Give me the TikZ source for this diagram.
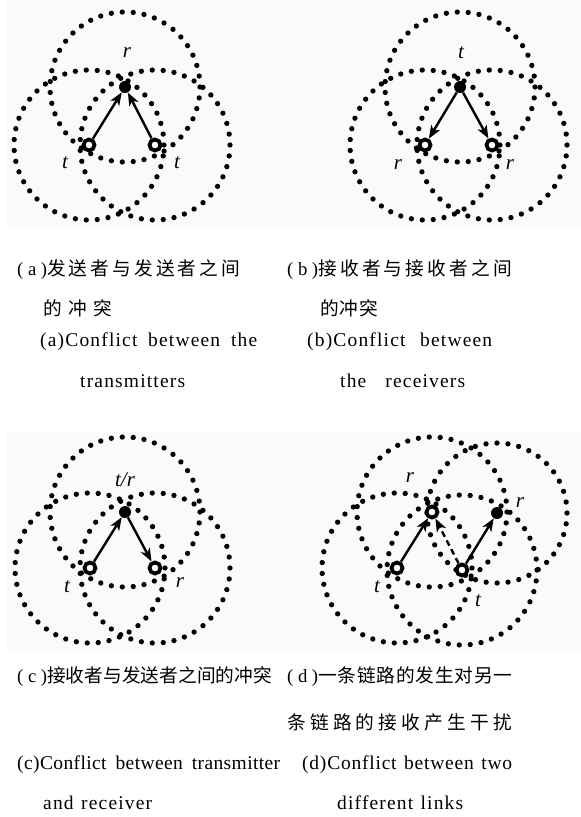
\documentclass[tikz,border=0pt]{standalone}
\usepackage{fontspec}
\setmainfont{Liberation Serif}
\newfontfamily\cjkfont{Noto Sans CJK SC}
\usetikzlibrary{arrows.meta,backgrounds}
\ExplSyntaxOn
\NewDocumentCommand\spreadto{mm}{\hbox to #1{\tl_map_inline:nn{#2}{##1\hfil}\unskip}}
\ExplSyntaxOff
\newcommand\zh[2]{{\cjkfont\spreadto{#1}{#2}}}
\newcommand\pl[2]{\hbox to #1{(\hfil #2\hfil)}}
\newcommand\enl[3][6]{\hbox to #2{\addfontfeature{LetterSpace=#1}#3}}
\tikzset{
  dotring/.style={line width=5.3pt, line cap=round, dash pattern=on 0pt off #1},
  opennd/.style={circle, draw, line width=3.8pt, fill=white, minimum size=11pt, inner sep=0pt},
  fillnd/.style={circle, fill=black, minimum size=12pt, inner sep=0pt},
  lnk/.style={line width=2.4pt, -{Stealth[length=13pt,width=10pt,inset=3.5pt]}},
  dlnk/.style={lnk, dash pattern=on 6pt off 4pt},
  lab/.style={font=\fontsize{21pt}{21pt}\selectfont\itshape, inner sep=0pt},
  zhtxt/.style={anchor=west, inner sep=0pt, font=\fontsize{18.7pt}{22pt}\selectfont},
  entxt/.style={anchor=west, inner sep=0pt, font=\fontsize{19.5pt}{22pt}\selectfont},
  bgpanel/.style={fill=black!2, draw=none}
}
\begin{document}
\begin{tikzpicture}[x=1pt, y=-1pt]
\useasboundingbox (0,0) rectangle (581,817);
% ---- panel (a)
\node[fillnd] (a-r)  at (125,87) {};
\node[opennd] (a-t1) at (89,145) {};
\node[opennd] (a-t2) at (155,145) {};
\node[lab] (a-lr)  at (127,53) {r};
\node[lab] (a-lt1) at (65,163) {t};
\node[lab] (a-lt2) at (177,163) {t};
\draw[lnk] (a-t1) -- (a-r);
\draw[lnk] (a-t2) -- (a-r);
% ---- panel (b)
\node[fillnd] (b-t)  at (460,87) {};
\node[opennd] (b-r1) at (425,145) {};
\node[opennd] (b-r2) at (492,145) {};
\node[lab] (b-lt)  at (461,53) {t};
\node[lab] (b-lr1) at (398,165) {r};
\node[lab] (b-lr2) at (510,165) {r};
\draw[lnk] (b-t) -- (b-r1);
\draw[lnk] (b-t) -- (b-r2);
% ---- panel (c)
\node[fillnd] (c-tr) at (125,512) {};
\node[opennd] (c-t)  at (90,568) {};
\node[opennd] (c-r)  at (155,568) {};
\node[lab] (c-ltr) at (125,480) {t/r};
\node[lab] (c-lt)  at (67,587) {t};
\node[lab] (c-lr)  at (180,583) {r};
\draw[lnk] (c-t) -- (c-tr);
\draw[lnk] (c-tr) -- (c-r);
% ---- panel (d)
\node[opennd] (d-t1) at (397,568) {};
\node[opennd] (d-r1) at (432,512) {};
\node[opennd] (d-t2) at (462,570) {};
\node[fillnd] (d-r2) at (497,513) {};
\node[lab] (d-lr1) at (410,478) {r};
\node[lab] (d-lr2) at (520,503) {r};
\node[lab] (d-lt1) at (377,587) {t};
\node[lab] (d-lt2) at (478,601) {t};
\draw[lnk] (d-t1) -- (d-r1);
\draw[dlnk] (d-t2) -- (d-r1);
\draw[lnk] (d-t2) -- (d-r2);
% ---- backgrounds and range circles
\begin{scope}[on background layer]
\fill[bgpanel] (7,0) rectangle (581,227);
\fill[bgpanel] (7,432) rectangle (581,652);
\foreach \n in {a-r,a-t1,a-t2,b-t,b-r1,b-r2,c-tr,c-t,c-r,d-t1,d-r1,d-t2}
  \draw[dotring=10.96pt] (\n) circle (75pt);
\draw[dotring=11pt] (d-r2) circle (70pt);
\end{scope}
% ---- captions
\node[zhtxt] (ca1) at (17,270) {\pl{30pt}{a}\zh{193pt}{发送者与发送者之间}};
\node[zhtxt] (ca2) at (43,308) {\zh{69pt}{的冲突}};
\node[entxt] (ca3) at (40,342) {\enl{217pt}{(a)Conflict between the}};
\node[entxt] (ca4) at (80,381) {\enl{107pt}{transmitters}};
\node[zhtxt] (cb1) at (287,270) {\pl{31pt}{b}\zh{194pt}{接收者与接收者之间}};
\node[zhtxt] (cb2) at (320,308) {\zh{58pt}{的冲突}};
\node[entxt] (cb3) at (307,342) {\enl{185pt}{(b)Conflict between}};
\node[entxt] (cb4) at (340,381) {\enl{125pt}{the receivers}};
\node[zhtxt] (cc1) at (17,677) {\pl{30pt}{c}\zh{225pt}{接收者与发送者之间的冲突}};
\node[entxt] (cc3) at (17,765) {\enl[2]{263pt}{(c)Conflict between transmitter}};
\node[entxt] (cc4) at (43,803) {\enl{109pt}{and receiver}};
\node[zhtxt] (cd1) at (287,677) {\pl{31pt}{d}\zh{194pt}{一条链路的发生对另一}};
\node[zhtxt] (cd2) at (287,722) {\zh{225pt}{条链路的接收产生干扰}};
\node[entxt] (cd3) at (302,765) {\enl[4]{210pt}{(d)Conflict between two}};
\node[entxt] (cd4) at (337,803) {\enl{126pt}{different links}};
\end{tikzpicture}
\end{document}
